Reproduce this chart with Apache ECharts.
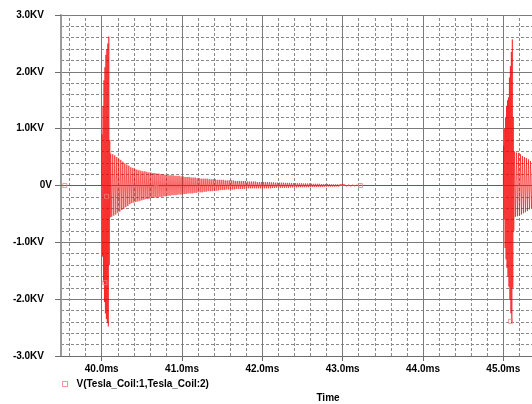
<!DOCTYPE html>
<html><head><meta charset="utf-8">
<script src="https://cdn.jsdelivr.net/npm/echarts@6/dist/echarts.min.js"></script>
<style>html,body{margin:0;padding:0;background:#fff}#c{width:532px;height:404px}</style>
</head><body><div id="c"></div>
<script>
// ---- data (time in ms, voltage in KV) ----
const seriesName = 'V(Tesla_Coil:1,Tesla_Coil:2)';
const axisTitle = 'Time';
const xRangeMs = [39.493, 45.357];
const yRangeKV = [-3, 3];
const xMajorMs = [40, 41, 42, 43, 44, 45];
const xMinorMs = [39.6, 39.8, 40.2, 40.4, 40.6, 40.8, 41.2, 41.4, 41.6, 41.8, 42.2, 42.4, 42.6, 42.8,
  43.2, 43.4, 43.6, 43.8, 44.2, 44.4, 44.6, 44.8, 45.2];
const leadIn = [[39.493, 0], [40.000, 0]];
const burst1Spike = [
  [40.004, 0.90], [40.010, -1.25], [40.016, 1.40], [40.022, -1.70], [40.028, 1.85], [40.034, -2.05],
  [40.040, 2.08], [40.046, -2.25], [40.052, 2.30], [40.058, -2.35], [40.064, 2.40], [40.070, -2.42],
  [40.076, 2.50], [40.082, -2.48], [40.088, 2.62], [40.094, -1.40], [40.100, 0.80], [40.106, -0.56]
];
const burst1Ring = [
  [40.1125, 0.56], [40.125, -0.55], [40.1375, 0.55], [40.150, -0.53], [40.1625, 0.53], [40.175, -0.51],
  [40.1875, 0.50], [40.200, -0.48], [40.2125, 0.47], [40.225, -0.46], [40.2375, 0.45], [40.250, -0.43],
  [40.2625, 0.42], [40.275, -0.41], [40.2875, 0.39], [40.300, -0.38], [40.3125, 0.37], [40.325, -0.36],
  [40.3375, 0.35], [40.350, -0.33], [40.3625, 0.32], [40.375, -0.31], [40.3875, 0.31], [40.400, -0.30],
  [40.4125, 0.29], [40.425, -0.29], [40.4375, 0.28], [40.450, -0.28], [40.4625, 0.27], [40.475, -0.27],
  [40.4875, 0.26], [40.500, -0.26], [40.5125, 0.25], [40.525, -0.25], [40.5375, 0.25], [40.550, -0.24],
  [40.5625, 0.24], [40.575, -0.24], [40.5875, 0.23], [40.600, -0.23], [40.6125, 0.23], [40.625, -0.22],
  [40.6375, 0.22], [40.650, -0.22], [40.6625, 0.22], [40.675, -0.21], [40.6875, 0.21], [40.700, -0.21],
  [40.7125, 0.21], [40.725, -0.20], [40.7375, 0.20], [40.750, -0.20], [40.7625, 0.20], [40.775, -0.19],
  [40.7875, 0.19], [40.800, -0.19], [40.8125, 0.19], [40.825, -0.18], [40.8375, 0.18], [40.850, -0.18],
  [40.8625, 0.18], [40.875, -0.17], [40.8875, 0.18], [40.900, -0.17], [40.9125, 0.17], [40.925, -0.17],
  [40.9375, 0.17], [40.950, -0.16], [40.9625, 0.17], [40.975, -0.16], [40.9875, 0.16], [41.000, -0.16],
  [41.0125, 0.16], [41.025, -0.15], [41.0375, 0.15], [41.050, -0.15], [41.0625, 0.15], [41.075, -0.14],
  [41.0875, 0.15], [41.100, -0.14], [41.1125, 0.14], [41.125, -0.14], [41.1375, 0.14], [41.150, -0.13],
  [41.1625, 0.14], [41.175, -0.13], [41.1875, 0.13], [41.200, -0.12], [41.2125, 0.13], [41.225, -0.12],
  [41.2375, 0.12], [41.250, -0.12], [41.2625, 0.12], [41.275, -0.11], [41.2875, 0.12], [41.300, -0.11],
  [41.3125, 0.12], [41.325, -0.10], [41.3375, 0.11], [41.350, -0.10], [41.3625, 0.11], [41.375, -0.10],
  [41.3875, 0.11], [41.400, -0.09], [41.4125, 0.11], [41.425, -0.09], [41.4375, 0.10], [41.450, -0.09],
  [41.4625, 0.10], [41.475, -0.08], [41.4875, 0.10], [41.500, -0.08], [41.5125, 0.10], [41.525, -0.08],
  [41.5375, 0.09], [41.550, -0.07], [41.5625, 0.09], [41.575, -0.07], [41.5875, 0.09], [41.600, -0.07],
  [41.6125, 0.09], [41.625, -0.07], [41.6375, 0.09], [41.650, -0.07], [41.6625, 0.08], [41.675, -0.06],
  [41.6875, 0.08], [41.700, -0.06], [41.7125, 0.08], [41.725, -0.06], [41.7375, 0.08], [41.750, -0.06],
  [41.7625, 0.08], [41.775, -0.06], [41.7875, 0.08], [41.800, -0.05], [41.8125, 0.07], [41.825, -0.05],
  [41.8375, 0.07], [41.850, -0.05], [41.8625, 0.07], [41.875, -0.05], [41.8875, 0.07], [41.900, -0.05],
  [41.9125, 0.07], [41.925, -0.05], [41.9375, 0.06], [41.950, -0.05], [41.9625, 0.06], [41.975, -0.05],
  [41.9875, 0.06], [42.000, -0.05]
];
const burst1Tail = [
  [42.0125, 0.06], [42.025, -0.05], [42.0375, 0.06], [42.050, -0.05], [42.0625, 0.06], [42.075, -0.05],
  [42.0875, 0.06], [42.100, -0.05], [42.1125, 0.055], [42.125, -0.045], [42.1375, 0.055], [42.150, -0.045],
  [42.1625, 0.05], [42.175, -0.04], [42.1875, 0.05], [42.200, -0.04], [42.2125, 0.05], [42.225, -0.04],
  [42.2375, 0.05], [42.250, -0.04], [42.2625, 0.05], [42.275, -0.04], [42.2875, 0.045], [42.300, -0.04],
  [42.3125, 0.045], [42.325, -0.04], [42.3375, 0.045], [42.350, -0.035], [42.3625, 0.045], [42.375, -0.035],
  [42.3875, 0.04], [42.400, -0.035], [42.4125, 0.04], [42.425, -0.035], [42.4375, 0.04], [42.450, -0.03],
  [42.4625, 0.04], [42.475, -0.03], [42.4875, 0.04], [42.500, -0.03], [42.5125, 0.035], [42.525, -0.03],
  [42.5375, 0.035], [42.550, -0.03], [42.5625, 0.035], [42.575, -0.03], [42.5875, 0.035], [42.600, -0.03],
  [42.6125, 0.03], [42.625, -0.025], [42.6375, 0.03], [42.650, -0.025], [42.6625, 0.03], [42.675, -0.025],
  [42.6875, 0.03], [42.700, -0.025], [42.7125, 0.03], [42.725, -0.025], [42.7375, 0.025], [42.750, -0.025],
  [42.7625, 0.025], [42.775, -0.02], [42.7875, 0.025], [42.800, -0.02], [42.8125, 0.025], [42.825, -0.02],
  [42.8375, 0.025], [42.850, -0.02], [42.8625, 0.02], [42.875, -0.02], [42.8875, 0.02], [42.900, -0.02],
  [42.9125, 0.02], [42.925, -0.018], [42.9375, 0.02], [42.950, -0.018], [42.9625, 0.018], [42.975, -0.016],
  [42.9875, 0.018], [43.000, -0.016],
  [43.025, 0.015], [43.050, -0.013], [43.075, 0.013], [43.100, -0.011], [43.125, 0.01], [43.150, -0.009],
  [43.175, 0.008], [43.200, -0.007], [43.225, 0.006], [43.250, -0.004], [43.275, 0.003], [43.300, 0]
];
const burst2 = [
  [45.000, 0], [45.004, 0.70], [45.010, -0.60], [45.016, 1.00], [45.022, -1.10], [45.028, 1.20],
  [45.034, -1.30], [45.040, 1.40], [45.046, -1.45], [45.052, 1.50], [45.058, -1.60], [45.064, 1.55],
  [45.070, -1.78], [45.076, 1.90], [45.082, -2.00], [45.088, 2.10], [45.094, -2.25], [45.100, 2.35],
  [45.106, -2.42], [45.112, 2.57], [45.118, -1.80], [45.124, 1.20], [45.130, -0.80], [45.1375, 0.60],
  [45.150, -0.55], [45.1625, 0.58], [45.175, -0.54], [45.1875, 0.57], [45.200, -0.53], [45.2125, 0.55],
  [45.225, -0.51], [45.2375, 0.52], [45.250, -0.49], [45.2625, 0.50], [45.275, -0.47], [45.2875, 0.48],
  [45.300, -0.45], [45.3125, 0.46], [45.325, -0.42], [45.3375, 0.43], [45.350, -0.40], [45.3625, 0.40]
];
const markerPoints = [[39.54, 0], [40.04, -1.71], [40.06, -0.19], [40.68, -0.04], [43.22, 0], [45.09, -2.39]];

// ---- chart ----
const trace = leadIn.concat(burst1Spike, burst1Ring, burst1Tail, burst2);
const FONT = "'Liberation Sans', Arial, sans-serif";
const majorColor = '#7a7a7a';
const minorColor = '#8a8a8a';
const gridLines = xMajorMs.map(v => ({ xAxis: v, lineStyle: { type: 'solid', color: majorColor, width: 1 } }))
  .concat(xMinorMs.map(v => ({ xAxis: v, lineStyle: { type: [3, 2], color: minorColor, width: 1 } })));

const chart = echarts.init(document.getElementById('c'), null, { renderer: 'canvas' });
chart.setOption({
  animation: false,
  backgroundColor: '#ffffff',
  grid: { left: 61, top: 15, right: 0, bottom: 48, containLabel: false, outerBoundsMode: 'none' },
  legend: {
    left: 62, top: 379, padding: 0, itemWidth: 5, itemHeight: 5, selectedMode: false,
    data: [{ name: seriesName, icon: 'rect', itemStyle: { color: '#ffffff', borderColor: '#f07a7a', borderWidth: 1 } }],
    textStyle: { fontFamily: FONT, fontSize: 10, fontWeight: 'bold', color: '#000', padding: [0, 0, 0, 4] }
  },
  graphic: [{
    type: 'text', x: 328, y: 398,
    style: { text: axisTitle, textAlign: 'center', textVerticalAlign: 'middle', font: 'bold 10px ' + FONT, fill: '#000' }
  }],
  xAxis: {
    type: 'value', min: xRangeMs[0], max: xRangeMs[1],
    axisLine: { show: true, onZero: false, lineStyle: { color: '#6e6e6e', width: 1 } },
    axisTick: { show: true, inside: false, length: 5, customValues: xMajorMs, lineStyle: { color: '#6e6e6e' } },
    axisLabel: {
      customValues: xMajorMs, margin: 8, color: '#000', fontFamily: FONT, fontSize: 10, fontWeight: 'bold',
      formatter: v => (Math.abs(v - Math.round(v)) < 1e-6 ? v.toFixed(1) + 'ms' : '')
    },
    splitLine: { show: false }
  },
  yAxis: {
    type: 'value', min: yRangeKV[0], max: yRangeKV[1], interval: 1,
    axisLine: { show: true, onZero: false, lineStyle: { color: '#9a9a9a', width: 2 } },
    axisTick: { show: true, inside: false, length: 6, lineStyle: { color: '#6e6e6e' } },
    axisLabel: {
      margin: 9, color: '#000', fontFamily: FONT, fontSize: 10, fontWeight: 'bold',
      formatter: v => (v === 0 ? '0V' : '{k|' + v.toFixed(1) + 'KV}'),
      rich: { k: { fontFamily: FONT, fontSize: 10, fontWeight: 'bold', color: '#000', padding: [0, 8, 0, 0] } }
    },
    splitLine: { show: true, lineStyle: { color: majorColor, width: 1, type: 'solid' } },
    minorTick: { show: false, splitNumber: 5 },
    minorSplitLine: { show: true, lineStyle: { color: minorColor, width: 1, type: [3, 2] } }
  },
  series: [
    {
      name: seriesName, type: 'scatter', data: markerPoints, z: 8,
      symbol: 'rect', symbolSize: 4,
      itemStyle: { color: 'rgba(255,255,255,0)', borderColor: '#f08080', borderWidth: 1 }, silent: true
    },
    {
      name: seriesName, type: 'line', data: trace, z: 6, showSymbol: false, symbol: 'none',
      sampling: false, smooth: false, clip: true, silent: true,
      lineStyle: { color: 'rgba(245,0,0,0.6)', width: 1 }, itemStyle: { color: '#f07a7a' }
    },
    {
      name: 'gridHelper', type: 'line', data: [[xRangeMs[0], 0]], z: 1, showSymbol: false, symbol: 'none',
      lineStyle: { width: 0, opacity: 0 }, silent: true,
      markLine: { silent: true, z: 1, symbol: ['none', 'none'], label: { show: false }, animation: false, data: gridLines }
    }
  ]
});
</script></body></html>
